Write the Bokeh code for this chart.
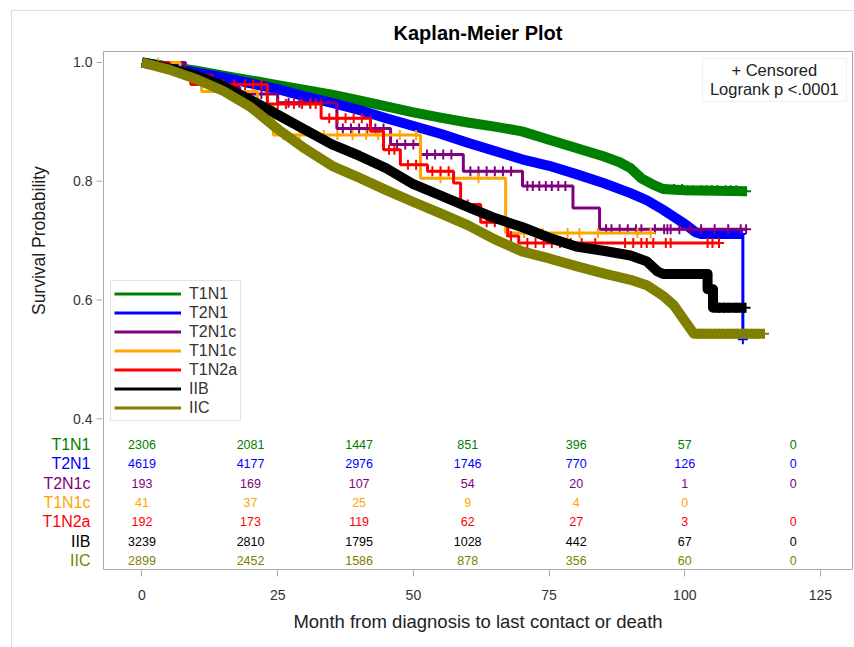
import math
import numpy as np
from bokeh.plotting import figure
from bokeh.layouts import row
from bokeh.models import (Range1d, FixedTicker, Legend, LegendItem, Label,
                          ColumnDataSource, BoxAnnotation)
from bokeh.core.properties import value
from bokeh.embed import file_html
from bokeh.resources import INLINE

FONT = "Liberation Sans"

# ---- groups -------------------------------------------------------------
groups = ["T1N1", "T2N1", "T2N1c", "T1N1c", "T1N2a", "IIB", "IIC"]
colors = ["#008000", "#0000FF", "#800080", "#FFA500", "#FF0000", "#000000", "#808000"]
dense = [True, True, False, False, False, True, True]

# ---- Kaplan-Meier estimates (months, survival) ------------------------
t1n1_t = [0, 5, 10, 15, 20, 25, 30, 35, 40, 45, 50, 55, 60, 65, 70, 75, 80, 85, 88, 90, 92, 94, 96, 100, 111.3]
t1n1_s = [1.0, 0.993, 0.986, 0.978, 0.970, 0.962, 0.954, 0.946, 0.936, 0.926, 0.916, 0.907, 0.899, 0.892,
          0.884, 0.870, 0.856, 0.842, 0.832, 0.822, 0.805, 0.795, 0.787, 0.785, 0.783]

t2n1_t = [0, 5, 10, 15, 20, 25, 30, 35, 40, 45, 50, 55, 60, 65, 70, 75, 80, 85, 90, 93, 96, 98, 100, 102,
          103, 110.7, 110.7]
t2n1_s = [1.0, 0.992, 0.983, 0.975, 0.965, 0.955, 0.943, 0.932, 0.920, 0.906, 0.893, 0.880, 0.865, 0.851,
          0.837, 0.826, 0.812, 0.797, 0.780, 0.768, 0.752, 0.740, 0.728, 0.714, 0.711, 0.711, 0.534]

t2n1c_t = [0, 8, 13, 18, 25, 35.9, 45.8, 51.3, 59.2, 70.1, 79.4, 84.3, 111.3]
t2n1c_s = [1.0, 0.979, 0.958, 0.947, 0.932, 0.889, 0.862, 0.845, 0.817, 0.792, 0.755, 0.719, 0.719]

t1n1c_t = [0, 7, 11, 21.3, 24.2, 51.3, 67.0, 93.7]
t1n1c_s = [1.0, 0.976, 0.951, 0.927, 0.878, 0.805, 0.713, 0.713]

t1n2a_t = [0, 5, 9, 23.1, 33, 42.1, 44.5, 47.6, 52.6, 57.4, 58.7, 62.4, 67.4, 69.4, 106.3]
t1n2a_s = [1.0, 0.984, 0.963, 0.930, 0.906, 0.884, 0.853, 0.828, 0.817, 0.797, 0.761, 0.731, 0.708,
           0.696, 0.696]

iib_t = [0, 5, 10, 15, 20, 25, 30, 35, 40, 45, 50, 55, 60, 65, 70, 75, 80, 85, 90, 93, 95, 96, 104.2,
         104.2, 105.2, 105.2, 111.2]
iib_s = [1.0, 0.990, 0.978, 0.960, 0.937, 0.912, 0.887, 0.862, 0.843, 0.822, 0.795, 0.776, 0.757, 0.738,
         0.723, 0.705, 0.690, 0.683, 0.675, 0.665, 0.648, 0.644, 0.644, 0.618, 0.618, 0.587, 0.587]

iic_t = [0, 5, 10, 15, 20, 25, 30, 35, 40, 45, 50, 55, 60, 65, 70, 75, 80, 85, 90, 93, 96, 98, 100,
         101.7, 114.6]
iic_s = [1.0, 0.988, 0.972, 0.952, 0.925, 0.888, 0.855, 0.826, 0.806, 0.785, 0.765, 0.746, 0.726, 0.702,
         0.682, 0.670, 0.657, 0.645, 0.634, 0.625, 0.607, 0.591, 0.565, 0.543, 0.543]

# ---- censoring times (months) ------------------------------------------
t1n1_cens = [96.5, 98, 99.5, 100.5, 101.5, 103, 104, 105, 106, 107.5, 108.5, 109.5, 111.3]
t2n1_cens = [104, 105.5, 106.5, 107.5, 108.3, 109, 109.8, 110.3, 110.7]
t2n1c_cens = [15, 19, 22, 27, 29, 31, 33, 37, 38.5, 40, 41.5, 43, 44.5, 47, 48.5, 50, 52.5, 54, 55.5, 57,
              60.5, 62, 63.5, 65, 66.5, 68, 71, 72, 73.2, 74.4, 75.5, 76.7, 78, 85.5, 86.5, 88, 89.5, 91,
              92, 94.5, 96.2, 96.8, 97.4, 99, 101, 103, 105.5, 108, 110.3, 111.3]
t1n1c_cens = [3, 26, 29, 33.5, 36, 38.8, 41.3, 43.5, 47.5, 50.5, 55, 62, 70.4, 73.8, 78.4, 80.6, 84,
              91.3, 93.7]
t1n2a_cens = [13, 15, 17, 19, 20.5, 22, 25, 26.5, 28, 29.5, 31, 32, 34.5, 36, 37.5, 39, 40.5, 45.5, 46.5,
              49, 50.5, 53.5, 55, 56.5, 60, 63.5, 65, 68, 71, 72.5, 74, 75.5, 77, 79, 81, 83.5, 89, 90.5,
              92, 93, 94.2, 96.5, 97.4, 104.2, 105.1, 106.3]
iib_cens = [102.4, 103, 103.6, 104.1, 104.6, 106.3, 107.2, 108, 109.5, 111.2]
iic_cens = [102.4, 103.2, 104, 104.8, 105.6, 106.3, 107.1, 108, 108.8, 109.7, 110.6, 111.5, 112.4,
            113.2, 114.6]

curve_t = [t1n1_t, t2n1_t, t2n1c_t, t1n1c_t, t1n2a_t, iib_t, iic_t]
curve_s = [t1n1_s, t2n1_s, t2n1c_s, t1n1c_s, t1n2a_s, iib_s, iic_s]
cens_t = [t1n1_cens, t2n1_cens, t2n1c_cens, t1n1c_cens, t1n2a_cens, iib_cens, iic_cens]

# ---- number at risk ----------------------------------------------------
risk_times = [0, 20, 40, 60, 80, 100, 120]
risk_t1n1 = [2306, 2081, 1447, 851, 396, 57, 0]
risk_t2n1 = [4619, 4177, 2976, 1746, 770, 126, 0]
risk_t2n1c = [193, 169, 107, 54, 20, 1, 0]
risk_t1n1c = [41, 37, 25, 9, 4, 0, None]
risk_t1n2a = [192, 173, 119, 62, 27, 3, 0]
risk_iib = [3239, 2810, 1795, 1028, 442, 67, 0]
risk_iic = [2899, 2452, 1586, 878, 356, 60, 0]
risk_rows = [risk_t1n1, risk_t2n1, risk_t2n1c, risk_t1n1c, risk_t1n2a, risk_iib, risk_iic]

x_ticks = [0, 25, 50, 75, 100, 125]
surv_ticks = [0.4, 0.6, 0.8, 1.0]

# ---- shared ranges -------------------------------------------------------
y_range = Range1d(0.1462, 1.0185)
risk_range = Range1d(6.477, -20.41)   # at-risk rows, counted downward

HEIGHT = 636
TOP, BOTTOM = 39, 78
TICK_GREY = "#a8a8a8"

# ---- main plot -------------------------------------------------------------
p = figure(width=752, height=HEIGHT, x_range=Range1d(-7.09, 130.9), y_range=y_range,
           output_backend="svg", toolbar_location=None, title="Kaplan-Meier Plot", y_axis_location=None,
           min_border_left=1, min_border_right=2, min_border_top=TOP, min_border_bottom=BOTTOM)
p.extra_y_ranges = {"risk": risk_range}

p.title.text_font = FONT
p.title.text_font_size = "20px"
p.title.text_font_style = "bold"
p.title.text_color = "#000000"
p.title.align = "center"
p.title.standoff = 16

p.grid.visible = False
p.outline_line_color = TICK_GREY
p.background_fill_color = "white"
p.border_fill_color = "white"

xa = p.xaxis[0]
xa.ticker = FixedTicker(ticks=x_ticks)
xa.axis_line_color = None
xa.major_tick_line_color = TICK_GREY
xa.major_tick_out = 7
xa.major_tick_in = 0
xa.minor_tick_out = 0
xa.minor_tick_in = 0
xa.major_label_standoff = 13
xa.major_label_text_font = FONT
xa.major_label_text_font_size = "14px"
xa.major_label_text_color = "#333333"
xa.axis_label = "Month from diagnosis to last contact or death"
xa.axis_label_text_font = FONT
xa.axis_label_text_font_size = "18.5px"
xa.axis_label_text_font_style = "normal"
xa.axis_label_text_color = "#222222"
xa.axis_label_standoff = 8


def step_value(times, surv, t):
    idx = np.searchsorted(np.asarray(times), t, side="right") - 1
    return [surv[i] for i in idx]


legend_items = []
for g, c, ts, ss, ct, is_dense in zip(groups, colors, curve_t, curve_s, cens_t, dense):
    if is_dense:
        # heavy censoring makes these curves read as a thick band;
        # a final drop at the last follow-up is drawn thin
        n = len(ts) - 1 if (ts[-1] == ts[-2] and ss[-1] != ss[-2]) else len(ts)
        p.line(ts[:n], ss[:n], line_color=c, line_width=10, line_join="round")
        r = p.line(ts, ss, line_color=c, line_width=3)
    else:
        r = p.step(ts, ss, mode="after", line_color=c, line_width=3)
    p.scatter(ct, step_value(ts, ss, ct), marker="cross", size=10, line_color=c, line_width=2)
    legend_items.append(LegendItem(label=g, renderers=[r]))

legend = Legend(items=legend_items, location=(7, 148), orientation="vertical",
                label_text_font=FONT, label_text_font_size="16px", label_text_color="#333333",
                glyph_width=67, glyph_height=19, label_height=19, spacing=0, padding=3, margin=0,
                label_standoff=8, border_line_color="#c8c8c8", background_fill_color="white",
                background_fill_alpha=1.0)
p.add_layout(legend)

# censoring / log-rank note
p.add_layout(BoxAnnotation(left=103.26, right=129.8, top=1.0067, bottom=0.9345,
                           fill_color="white", fill_alpha=1.0, line_color="#c8c8c8", line_width=1))
p.add_layout(Label(x=116.5, y=0.9866, text="+ Censored", text_align="center", text_baseline="middle",
                   text_font=FONT, text_font_size="16.5px", text_color="#222222"))
p.add_layout(Label(x=116.5, y=0.9546, text="Logrank p <.0001", text_align="center",
                   text_baseline="middle", text_font=FONT, text_font_size="16.5px",
                   text_color="#222222"))

# number-at-risk table
rx, ry, rn, rc = [], [], [], []
for i, (vals, c) in enumerate(zip(risk_rows, colors)):
    for t, n in zip(risk_times, vals):
        if n is None:
            continue
        rx.append(t)
        ry.append(i)
        rn.append(str(n))
        rc.append(c)
risk_src = ColumnDataSource(dict(x=rx, y=ry, text=rn, color=rc))
p.text(x="x", y="y", text="text", source=risk_src, y_range_name="risk", text_color="color",
       text_align="center", text_baseline="middle", text_font=value(FONT), text_font_size="12.5px")

# ---- left panel: y-axis title, survival ticks and at-risk row names -------------
side = figure(width=90, height=HEIGHT, x_range=Range1d(0, 90), y_range=y_range,
              output_backend="svg", toolbar_location=None, x_axis_location=None, y_axis_location=None,
              min_border_left=0, min_border_right=0, min_border_top=TOP, min_border_bottom=BOTTOM)
side.extra_y_ranges = {"risk": risk_range}
side.grid.visible = False
side.outline_line_color = None
side.background_fill_color = "white"
side.border_fill_color = "white"

side.text(x=[26], y=[0.70], text=["Survival Probability"], angle=math.pi / 2, text_align="center",
          text_baseline="middle", text_font=value(FONT), text_font_size="17.5px", text_color="#222222")
side.segment(x0=[84] * len(surv_ticks), x1=[90] * len(surv_ticks), y0=surv_ticks, y1=surv_ticks,
             line_color=TICK_GREY, line_width=1)
side.text(x=[80] * len(surv_ticks), y=surv_ticks, text=["%.1f" % v for v in surv_ticks],
          text_align="right", text_baseline="middle", text_font=value(FONT), text_font_size="14px",
          text_color="#333333")
name_src = ColumnDataSource(dict(x=[78] * len(groups), y=list(range(len(groups))), text=groups,
                                 color=colors))
side.text(x="x", y="y", text="text", source=name_src, y_range_name="risk", text_color="color",
          text_align="right", text_baseline="middle", text_font=value(FONT), text_font_size="16px")

layout = row(side, p, spacing=0)
layout.margin = (10, 0, 0, 11)
layout.styles = {"border-left": "1px solid #dcdcdc", "border-top": "1px solid #dcdcdc"}

open("out.html", "w").write(file_html(layout, INLINE))
